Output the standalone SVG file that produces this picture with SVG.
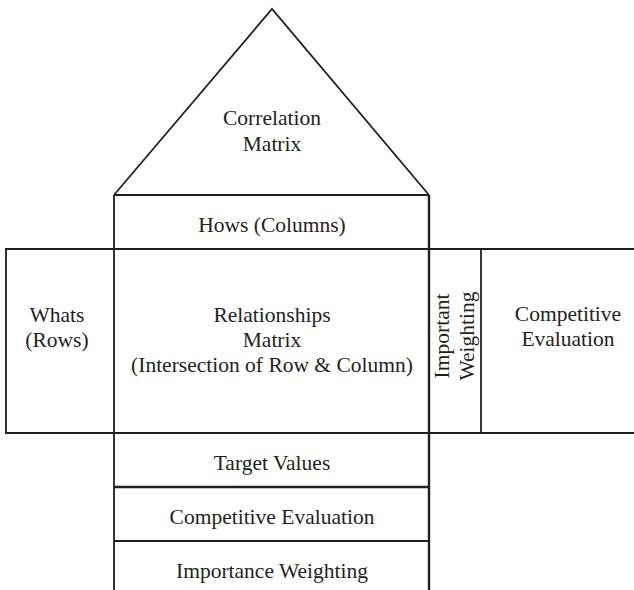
<svg xmlns="http://www.w3.org/2000/svg" width="634" height="590" viewBox="0 0 634 590">
<style>
.ln{stroke:#231f20;stroke-width:1.8;fill:none}
.thk{stroke:#231f20;stroke-width:2.4;fill:none}
text{font-family:"Liberation Serif","Times New Roman",serif;font-size:21.5px;fill:#231f20;text-anchor:middle}
</style>
<rect width="634" height="590" fill="#fff"/>
<g id="connectors">
<line class="ln" x1="5" y1="249" x2="634" y2="249"/>
<line class="ln" x1="5" y1="433" x2="634" y2="433"/>
<line class="ln" x1="6" y1="249" x2="6" y2="433"/>
<line class="ln" x1="114" y1="195" x2="114" y2="590"/>
<line class="thk" x1="429" y1="195" x2="429" y2="590"/>
<line class="ln" x1="481" y1="249" x2="481" y2="433"/>
<line class="ln" x1="114" y1="195" x2="429" y2="195"/>
<line class="thk" x1="114" y1="487" x2="429" y2="487"/>
<line class="ln" x1="114" y1="541" x2="429" y2="541"/>
</g>
<g id="correlation">
<polyline class="ln" points="114,195 272,9 429,195"/>
<text x="272" y="125">Correlation</text>
<text x="272" y="151">Matrix</text>
</g>
<g id="hows"><text x="272" y="232">Hows (Columns)</text></g>
<g id="whats"><text x="57" y="322">Whats</text><text x="57" y="347">(Rows)</text></g>
<g id="relationships">
<text x="272" y="322">Relationships</text>
<text x="272" y="347">Matrix</text>
<text x="272" y="372">(Intersection of Row &amp; Column)</text>
</g>
<g id="important">
<text transform="translate(449,336) rotate(-90)">Important</text>
<text transform="translate(474,336) rotate(-90)">Weighting</text>
</g>
<g id="competitive-right"><text x="568" y="321">Competitive</text><text x="568" y="346">Evaluation</text></g>
<g id="target"><text x="272" y="470">Target Values</text></g>
<g id="competitive-bottom"><text x="272" y="524">Competitive Evaluation</text></g>
<g id="importance"><text x="272" y="578">Importance Weighting</text></g>
</svg>
